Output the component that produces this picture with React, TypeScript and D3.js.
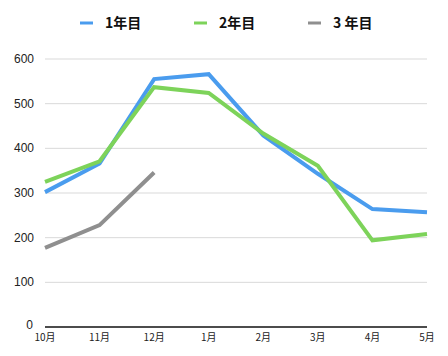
import React from "react";
import * as d3 from "d3";

const months = ["10月", "11月", "12月", "1月", "2月", "3月", "4月", "5月"];
const year1 = [302, 366, 555, 566, 429, 343, 264, 257];
const year2 = [325, 371, 537, 524, 433, 361, 194, 208];
const year3 = [177, 228, 346];
const yTicks = [0, 100, 200, 300, 400, 500, 600];
const seriesNames = ["1年目", "2年目", "3 年目"];
const colors = ["#4a9cee", "#7dd35a", "#8f8f8f"];

const W = 448, H = 356;
const left = 45, right = 427, top = 59, bottom = 327;

export default function App() {
  const x = d3.scalePoint<string>().domain(months).range([left, right]);
  const y = d3.scaleLinear().domain([0, 600]).range([bottom, top]);
  const line = d3
    .line<number>()
    .x((_, i) => x(months[i]) as number)
    .y((d) => y(d));
  const series = [year1, year2, year3];
  const font = "'Noto Sans CJK JP', 'Noto Sans', sans-serif";
  const numFont = "'Liberation Sans', Arial, sans-serif";
  const legendX = [80, 194, 308];
  return (
    <svg width={W} height={H} style={{ position: "absolute", left: 0, top: 0 }} fontFamily={font}>
      <rect width={W} height={H} fill="#fff" />
      {yTicks.filter((t) => t > 0).map((t) => (
        <line key={t} x1={left} x2={right} y1={y(t)} y2={y(t)} stroke="#d9d9d9" strokeWidth={1} />
      ))}
      {yTicks.map((t) => (
        <text
          key={t}
          x={t === 0 ? 33 : 34}
          y={y(t) + (t === 0 ? 2 : 4)}
          textAnchor="end"
          fontSize={12}
          fontFamily={numFont}
          fill="#222"
        >
          {t}
        </text>
      ))}
      <line x1={left} x2={right} y1={bottom} y2={bottom} stroke="#111" strokeWidth={1.5} />
      {months.map((m) => (
        <text key={m} x={x(m) as number} y={341} textAnchor="middle" fontSize={10} fill="#222">
          {m}
        </text>
      ))}
      {series.map((s, i) => (
        <path
          key={i}
          d={line(s) || ""}
          fill="none"
          stroke={colors[i]}
          strokeWidth={4}
          strokeLinejoin="miter"
        />
      ))}
      {seriesNames.map((n, i) => (
        <g key={n}>
          <line x1={legendX[i]} x2={legendX[i] + 13} y1={23} y2={23} stroke={colors[i]} strokeWidth={3} />
          <text x={legendX[i] + 25} y={28} fontSize={14} fontWeight="bold" fill="#111">
            {n}
          </text>
        </g>
      ))}
    </svg>
  );
}
